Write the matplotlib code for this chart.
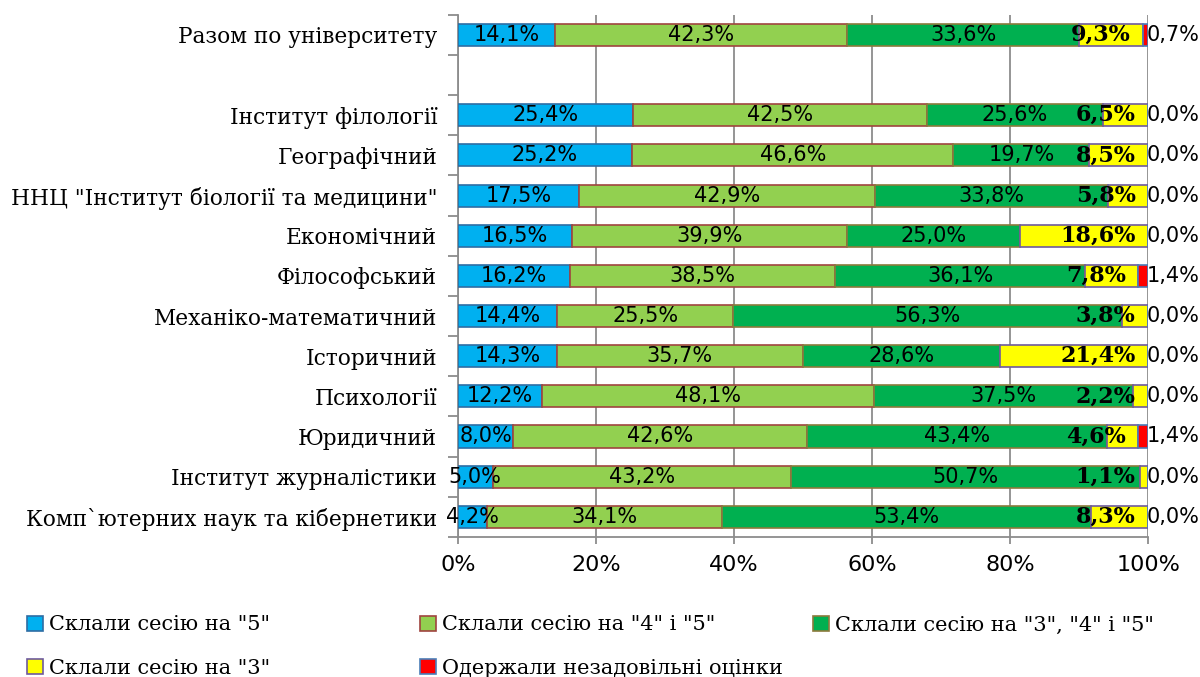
import numpy as np
import matplotlib
matplotlib.use("Agg")
import matplotlib.pyplot as plt

# rows top to bottom, "" is the empty spacer row
categories = [
    "Разом по університету",
    "",
    "Інститут філології",
    "Географічний",
    "ННЦ \"Інститут біології та медицини\"",
    "Економічний",
    "Філософський",
    "Механіко-математичний",
    "Історичний",
    "Психології",
    "Юридичний",
    "Інститут журналістики",
    "Комп`ютерних наук та кібернетики",
]

grade_5 = [14.1, 0, 25.4, 25.2, 17.5, 16.5, 16.2, 14.4, 14.3, 12.2, 8.0, 5.0, 4.2]
grade_45 = [42.3, 0, 42.5, 46.6, 42.9, 39.9, 38.5, 25.5, 35.7, 48.1, 42.6, 43.2, 34.1]
grade_345 = [33.6, 0, 25.6, 19.7, 33.8, 25.0, 36.1, 56.3, 28.6, 37.5, 43.4, 50.7, 53.4]
grade_3 = [9.3, 0, 6.5, 8.5, 5.8, 18.6, 7.8, 3.8, 21.4, 2.2, 4.6, 1.1, 8.3]
failed = [0.7, 0, 0.0, 0.0, 0.0, 0.0, 1.4, 0.0, 0.0, 0.0, 1.4, 0.0, 0.0]

series_names = [
    "Склали сесію на \"5\"",
    "Склали сесію на \"4\" і \"5\"",
    "Склали сесію на \"3\", \"4\" і \"5\"",
    "Склали сесію на \"3\"",
    "Одержали незадовільні оцінки",
]
colors = ["#00B0F0", "#92D050", "#00B050", "#FFFF00", "#FF0000"]
edges = ["#2E6DA4", "#A0443F", "#8B7A3C", "#6E5A9E", "#4A7EB8"]

serif = ["DejaVu Serif"]
sans = ["DejaVu Sans"]


def fmt(v):
    return f"{v:.1f}%".replace(".", ",")


fig = plt.figure(figsize=(12, 6.77), dpi=100)
ax = fig.add_axes([0.3817, 0.207, 0.575, 0.771])

y = np.arange(len(categories))
real = np.array([i for i, c in enumerate(categories) if c])
data = [grade_5, grade_45, grade_345, grade_3, failed]
left = np.zeros(len(categories))
bars = []
for vals, name, c, ec in zip(data, series_names, colors, edges):
    vals = np.array(vals, dtype=float)
    b = ax.barh(y[real], vals[real], left=left[real], height=0.55, color=c,
                edgecolor=ec, linewidth=1.2, label=name, zorder=3)
    bars.append((b, vals, left.copy()))
    left = left + vals

# centered labels for the first three series
for b, vals, lft in bars[:3]:
    for i in real:
        ax.text(lft[i] + vals[i] / 2, y[i], fmt(vals[i]), ha="center",
                va="center", fontsize=15, family=sans, color="black", zorder=5)

# yellow labels: bold, inside the end of the segment
b, vals, lft = bars[3]
for i in real:
    ax.annotate(fmt(vals[i]), xy=(lft[i] + vals[i], y[i]), xytext=(-9, 0),
                textcoords="offset points", ha="right", va="center",
                fontsize=16, fontweight="bold", family=serif, zorder=6)

# red labels: just past the end of the bar
b, vals, lft = bars[4]
for i in real:
    ax.annotate(fmt(vals[i]), xy=(lft[i] + vals[i], y[i]), xytext=(-1, 0),
                textcoords="offset points", ha="left", va="center",
                fontsize=15, family=sans, zorder=6, annotation_clip=False)

ax.set_xlim(0, 100)
ax.set_ylim(len(categories) - 0.5, -0.5)
ax.set_xticks(np.arange(0, 101, 20))
ax.set_xticklabels([f"{t}%" for t in range(0, 101, 20)], family=sans, fontsize=16)
ax.set_yticks(y)
ax.set_yticklabels(categories, family=serif, fontsize=15.6)
ax.set_yticks(np.arange(-0.5, len(categories), 1), minor=True)
ax.tick_params(axis="y", which="major", length=0, pad=15)
ax.tick_params(axis="y", which="minor", length=7, width=1.3, color="#8c8c8c")
ax.tick_params(axis="x", length=5, width=1.3, color="#8c8c8c", pad=8)

ax.grid(axis="x", color="#8c8c8c", linewidth=1.3, zorder=0)
ax.set_axisbelow(True)
for side in ["top", "right"]:
    ax.spines[side].set_visible(False)
for side in ["left", "bottom"]:
    ax.spines[side].set_color("#8c8c8c")
    ax.spines[side].set_linewidth(1.3)

# legend entries laid out like the original (3 + 2)
legend_pos = [(27, 625), (420, 625), (813, 625), (27, 668), (420, 668)]
for (b, vals, lft), name, (px, py) in zip(bars, series_names, legend_pos):
    fig.legend(handles=[b], labels=[name], loc="center left",
               bbox_to_anchor=(px / 1200, 1 - py / 677), frameon=False,
               handlelength=0.75, handleheight=0.75, handletextpad=0.3,
               borderpad=0, borderaxespad=0,
               prop={"family": serif, "size": 15})

fig.savefig("out.png", dpi=100)
